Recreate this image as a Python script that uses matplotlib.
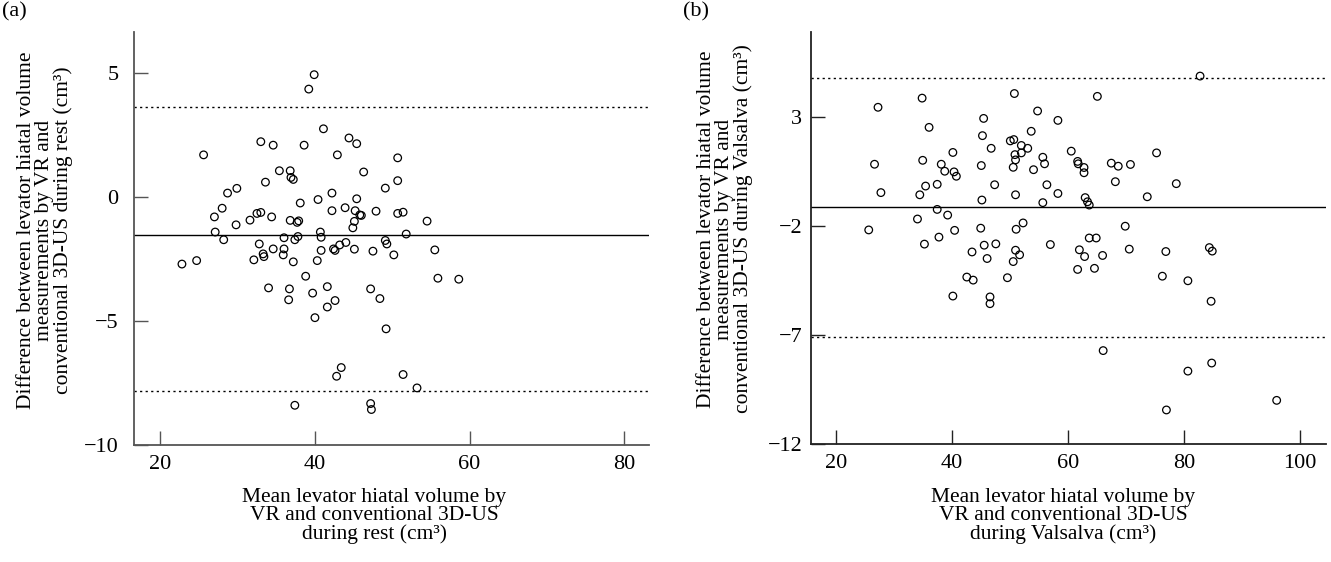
import matplotlib
matplotlib.use("Agg")
import matplotlib.pyplot as plt

plt.rcParams["font.family"] = ["Liberation Serif", "DejaVu Serif"]

# -----------------------------------------------------------------------
# Panel (a): rest
# -----------------------------------------------------------------------
rest_mean_x = [
    39.9, 39.2, 41.1, 44.4, 45.4, 33.0, 34.6, 38.6, 25.6, 42.9, 50.7, 35.4,
    36.8, 36.9, 37.2, 46.3, 50.7, 33.6, 29.9, 28.7, 42.2, 49.1, 40.4, 45.4,
    38.1, 28.0, 27.0, 32.5, 33.0, 31.6, 34.4, 42.2, 43.9, 45.2, 45.8, 46.0,
    47.9, 50.7, 29.8, 36.8, 37.7, 37.9, 45.1, 44.9, 27.1, 40.7, 51.4, 54.5,
    51.8, 28.2, 22.8, 24.7, 32.8, 36.0, 37.4, 37.8, 40.8, 34.6, 36.0, 33.3,
    33.4, 32.1, 35.9, 37.2, 40.8, 40.3, 42.4, 42.6, 43.2, 44.0, 45.1, 47.5,
    49.1, 49.3, 50.2, 38.8, 34.0, 36.7, 36.6, 39.7, 41.6, 41.6, 42.6, 40.0,
    47.2, 48.4, 49.2, 43.4, 42.8, 37.4, 47.2, 47.3, 51.4, 55.5, 55.9, 58.6,
    53.2,
]
rest_diff = [
    4.92, 4.34, 2.74, 2.37, 2.14, 2.22, 2.08, 2.08, 1.69, 1.69, 1.57, 1.05,
    1.05, 0.78, 0.70, 1.00, 0.65, 0.59, 0.34, 0.15, 0.15, 0.35, -0.11, -0.08,
    -0.25, -0.46, -0.81, -0.67, -0.63, -0.94, -0.81, -0.56, -0.44, -0.56, -0.73, -0.75,
    -0.58, -0.67, -1.13, -0.95, -1.03, -0.97, -0.99, -1.25, -1.42, -1.42, -0.62, -0.98,
    -1.50, -1.73, -2.71, -2.57, -1.90, -1.65, -1.73, -1.60, -1.63, -2.10, -2.10, -2.30,
    -2.41, -2.54, -2.34, -2.62, -2.16, -2.57, -2.10, -2.16, -1.94, -1.84, -2.11, -2.19,
    -1.76, -1.90, -2.34, -3.20, -3.67, -3.71, -4.15, -3.88, -3.62, -4.44, -4.18, -4.87,
    -3.71, -4.10, -5.32, -6.88, -7.23, -8.40, -8.33, -8.57, -7.16, -2.14, -3.28, -3.32,
    -7.70,
]
rest_bias = -1.53
rest_loa = [3.60, -7.81]

# -----------------------------------------------------------------------
# Panel (b): Valsalva
# -----------------------------------------------------------------------
vals_mean_x = [
    34.9, 27.3, 50.8, 45.5, 54.8, 58.3, 36.1, 45.3, 53.7, 50.1, 50.7, 52.0,
    53.1, 46.8, 40.2, 50.9, 52.0, 26.7, 35.0, 38.2, 38.8, 40.4, 40.8, 45.1,
    51.0, 50.6, 55.7, 56.0, 54.1, 27.8, 34.5, 35.5, 37.5, 47.4, 51.0, 56.4,
    58.3, 45.2, 55.7, 37.5, 39.3, 34.1, 25.7, 40.5, 45.0, 51.1, 52.3, 37.8,
    82.8, 65.1, 60.6, 61.7, 61.8, 62.8, 62.8, 67.5, 68.7, 70.8, 75.3, 68.2,
    78.7, 73.7, 63.0, 63.4, 63.7, 69.9, 63.7, 64.9, 35.3, 45.6, 47.6, 43.5,
    46.1, 51.0, 51.7, 50.6, 57.0, 42.6, 43.7, 49.6, 40.2, 46.6, 46.6, 62.0,
    62.9, 66.0, 70.6, 76.9, 84.4, 84.9, 61.7, 64.6, 76.3, 80.7, 84.7, 66.1,
    80.7, 84.8, 77.0, 96.0,
]
vals_diff = [
    3.85, 3.43, 4.06, 2.92, 3.26, 2.83, 2.51, 2.13, 2.33, 1.89, 1.95, 1.68,
    1.55, 1.55, 1.36, 1.26, 1.34, 0.82, 1.00, 0.82, 0.50, 0.47, 0.27, 0.76,
    1.02, 0.68, 1.14, 0.84, 0.57, -0.48, -0.58, -0.18, -0.10, -0.12, -0.58, -0.12,
    -0.52, -0.82, -0.94, -1.25, -1.51, -1.69, -2.19, -2.21, -2.11, -2.16, -1.87, -2.52,
    4.86, 3.93, 1.42, 0.95, 0.84, 0.67, 0.43, 0.87, 0.73, 0.81, 1.34, 0.02,
    -0.07, -0.67, -0.71, -0.90, -1.05, -2.02, -2.56, -2.56, -2.84, -2.89, -2.83, -3.20,
    -3.50, -3.12, -3.33, -3.64, -2.86, -4.35, -4.49, -4.38, -5.22, -5.26, -5.57, -3.10,
    -3.41, -3.36, -3.07, -3.18, -3.00, -3.16, -4.00, -3.95, -4.31, -4.52, -5.46, -7.72,
    -8.66, -8.29, -10.44, -10.00,
]
vals_bias = -1.14
vals_loa = [4.79, -7.08]

YLABEL_A = ("Difference between levator hiatal volume\n"
            "measurements by VR and\n"
            "conventional 3D-US during rest (cm³)")
YLABEL_B = ("Difference between levator hiatal volume\n"
            "measurements by VR and\n"
            "conventional 3D-US during Valsalva (cm³)")
XLABEL_A = ("Mean levator hiatal volume by\n"
            "VR and conventional 3D-US\n"
            "during rest (cm³)")
XLABEL_B = ("Mean levator hiatal volume by\n"
            "VR and conventional 3D-US\n"
            "during Valsalva (cm³)")

W, H = 1331, 562
LABEL_FS = 15.5
TICK_FS = 16


def bland_altman(ax, x, d, bias, loa, xlim, ylim, xticks, yticks, ypad, spine_col):
    ax.scatter(x, d, s=30, facecolors="none", edgecolors="black",
               linewidths=0.9, zorder=3)
    ax.axhline(bias, color="black", lw=1.0)
    for v in loa:
        ax.axhline(v, color="black", lw=1.0, linestyle=(0, (1.6, 2.4)))
    ax.set_xlim(*xlim)
    ax.set_ylim(*ylim)
    ax.set_xticks(xticks)
    ax.set_yticks(yticks)
    for s in ("top", "right"):
        ax.spines[s].set_visible(False)
    for s in ("left", "bottom"):
        ax.spines[s].set_color(spine_col)
        ax.spines[s].set_linewidth(1.3)
    ax.tick_params(axis="both", direction="in", length=10, width=1.0,
                   colors=spine_col, labelcolor="black", labelsize=TICK_FS)
    ax.tick_params(axis="x", pad=7)
    ax.tick_params(axis="y", pad=ypad)


fig = plt.figure(figsize=(W / 100, H / 100), dpi=100)

ax_a = fig.add_axes([134 / W, 1 - 445 / H, 515 / W, 413 / H])
bland_altman(ax_a, rest_mean_x, rest_diff, rest_bias, rest_loa,
             (16.6, 83.2), (-10, 6.64), [20, 40, 60, 80], [-10, -5, 0, 5],
             11, "#555555")

ax_b = fig.add_axes([810.7 / W, 1 - 444 / H, 515.3 / W, 412 / H])
bland_altman(ax_b, vals_mean_x, vals_diff, vals_bias, vals_loa,
             (15.7, 104.5), (-12, 6.88), [20, 40, 60, 80, 100], [-12, -7, -2, 3],
             6, "#222222")

# axis titles placed to match the original layout
fig.text(45 / W, 1 - 230 / H, YLABEL_A, rotation=90, ha="center", va="center",
         fontsize=LABEL_FS, linespacing=0.95)
fig.text(725 / W, 1 - 229 / H, YLABEL_B, rotation=90, ha="center", va="center",
         fontsize=LABEL_FS, linespacing=0.95)
fig.text(374 / W, 1 - 516 / H, XLABEL_A, ha="center", va="center",
         fontsize=LABEL_FS, linespacing=0.95)
fig.text(1063 / W, 1 - 516 / H, XLABEL_B, ha="center", va="center",
         fontsize=LABEL_FS, linespacing=0.95)

fig.text(2 / W, 1 - 2 / H, "(a)", ha="left", va="top", fontsize=16)
fig.text(683 / W, 1 - 2 / H, "(b)", ha="left", va="top", fontsize=16)

fig.savefig("out.png", dpi=100)
